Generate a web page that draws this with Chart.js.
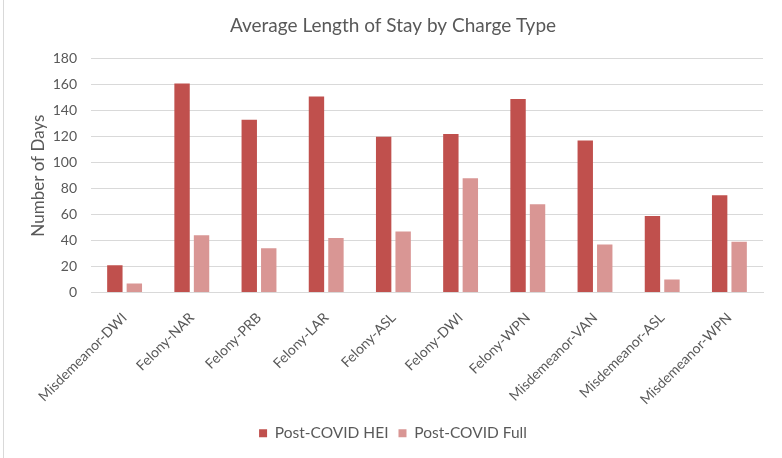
<!DOCTYPE html>
<html>
<head>
<meta charset="utf-8">
<script src="https://cdn.jsdelivr.net/npm/chart.js@4/dist/chart.umd.min.js"></script>
<style>
    html, body { margin: 0; padding: 0; background: #fff; }
    .wrap { position: relative; width: 782px; height: 458px; }
    .edge { position: absolute; left: 3px; top: 0; bottom: 0; width: 1px; background: #d9d9d9; }
    canvas { position: absolute; left: 0; top: 0; }
</style>
</head>
<body>
<div class="wrap">
    <div class="edge"></div>
    <canvas id="myChart" width="782" height="458"></canvas>
</div>
<script>
var categories = ['Misdemeanor-DWI', 'Felony-NAR', 'Felony-PRB', 'Felony-LAR', 'Felony-ASL',
    'Felony-DWI', 'Felony-WPN', 'Misdemeanor-VAN', 'Misdemeanor-ASL', 'Misdemeanor-WPN'];
var heiValues = [21, 161, 133, 151, 120, 122, 149, 117, 59, 75];
var fullValues = [7, 44, 34, 42, 47, 88, 68, 37, 10, 39];
var yTicks = [0, 20, 40, 60, 80, 100, 120, 140, 160, 180];

var grey = '#595959';
var fam = 'Lato, "Open Sans", sans-serif';

var ctx = document.getElementById('myChart').getContext('2d');
var myChart = new Chart(ctx, {
    type: 'bar',
    data: {
        labels: categories,
        datasets: [{
            label: 'Post-COVID HEI',
            data: heiValues,
            backgroundColor: '#c0504d'
        }, {
            label: 'Post-COVID Full',
            data: fullValues,
            backgroundColor: '#d99694'
        }]
    },
    options: {
        responsive: false,
        animation: false,
        categoryPercentage: 0.58,
        barPercentage: 0.79,
        layout: {
            padding: { left: 23, right: 19, top: 0, bottom: 7 }
        },
        plugins: {
            title: {
                display: true,
                text: 'Average Length of Stay by Charge Type',
                color: grey,
                font: { family: fam, size: 19, weight: 'normal' },
                padding: { top: 14, bottom: 22 }
            },
            legend: {
                position: 'bottom',
                labels: {
                    color: grey,
                    font: { family: fam, size: 15.5 },
                    boxWidth: 8,
                    boxHeight: 8,
                    padding: 10
                }
            },
            tooltip: { enabled: false }
        },
        scales: {
            x: {
                grid: { display: false },
                border: { color: '#d9d9d9' },
                ticks: {
                    color: grey,
                    font: { family: fam, size: 14 },
                    minRotation: 45,
                    maxRotation: 45,
                    padding: 9
                },
                afterFit: function(scale) { scale.height = 123; }
            },
            y: {
                min: 0,
                max: 180,
                afterBuildTicks: function(scale) {
                    scale.ticks = yTicks.map(function(v) { return { value: v }; });
                },
                grid: { color: '#d9d9d9', drawTicks: false },
                border: { display: false },
                ticks: {
                    color: grey,
                    font: { family: fam, size: 14 },
                    padding: 14
                },
                title: {
                    display: true,
                    text: 'Number of Days',
                    color: grey,
                    font: { family: fam, size: 17 },
                    padding: { top: 5, bottom: 0 }
                },
                afterFit: function(scale) { scale.width = 68; }
            }
        }
    }
});
</script>
</body>
</html>
